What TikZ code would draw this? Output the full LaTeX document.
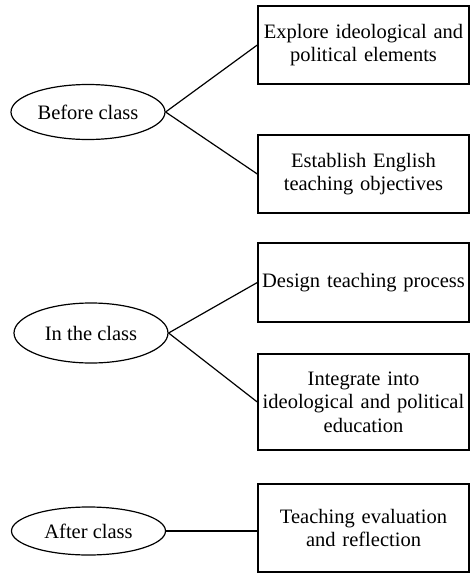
\documentclass[tikz,border=0pt]{standalone}
\usepackage{fontspec}
\setmainfont{Liberation Serif}
\usetikzlibrary{shapes.geometric,positioning}

\begin{document}
\begin{tikzpicture}[x=1pt,y=-1pt,
    phase/.style={ellipse,draw,line width=1.2pt,minimum width=154pt,minimum height=55pt,inner sep=0pt,font=\fontsize{20.5}{23.5}\selectfont},
    task/.style={rectangle,draw,line width=1.4pt,minimum width=211pt,text width=209pt,align=center,inner sep=0pt,font=\fontsize{20.5}{23.5}\selectfont}]
    \useasboundingbox (0,0) rectangle (470,573);
    \node[phase] (before) at (88,112) {Before class};
    \node[task,minimum height=78pt] (explore) at (363.5,45) {Explore ideological and\\political elements};
    \node[task,minimum height=78pt] (establish) at (363.5,174) {Establish English\\teaching objectives};
    \node[phase,minimum height=60pt] (inclass) at (91,333) {In the class};
    \node[task,minimum height=79pt] (design) at (363.5,282.5) {Design teaching process};
    \node[task,minimum height=96pt] (integrate) at (363.5,402) {Integrate into\\ideological and political\\education};
    \node[phase,minimum height=48pt] (after) at (88.5,531) {After class};
    \node[task,minimum height=88pt] (evaluate) at (363.5,528) {Teaching evaluation\\and reflection};
    \path[draw,line width=1.2pt]
    (before.east) edge (explore.west)
                  edge (establish.west)
    (inclass.east) edge (design.west)
                   edge (integrate.west)
    (after.east) edge (after.east -| evaluate.west);
\end{tikzpicture}
\end{document}
